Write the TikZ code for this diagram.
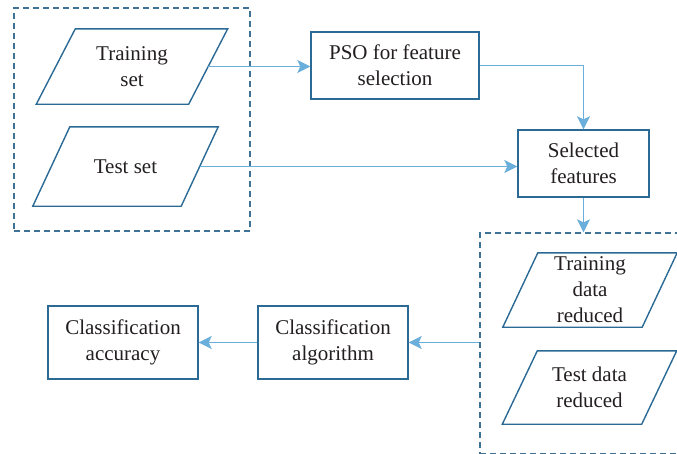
\documentclass[tikz,border=0pt]{standalone}
\usepackage{fontspec}
\setmainfont{Liberation Serif}
\usetikzlibrary{arrows.meta}
\definecolor{boxc}{HTML}{2A6A94}
\definecolor{dashc}{HTML}{3E7396}
\definecolor{arrc}{HTML}{6AAEDC}
\definecolor{txtc}{HTML}{231F20}
\newcommand\iodraw[2]{%
  \draw[ioline] ([xshift=-#2]#1.south west) -- ([xshift=-#2]#1.south east)
    -- ([xshift=#2]#1.north east) -- ([xshift=#2]#1.north west) -- cycle;}
\begin{document}
\begin{tikzpicture}[x=1pt,y=-1pt,
  txt/.style={text=txtc, align=center, inner sep=0pt, font=\fontsize{21}{26}\selectfont},
  procbox/.style={txt, draw=boxc, line width=1.4pt, fill=white, rectangle},
  iobox/.style={txt, rectangle},
  ioline/.style={draw=boxc, line width=1.4pt, line join=miter},
  flow/.style={draw=arrc, line width=1.4pt, -{Stealth[length=13pt,width=13pt,inset=3pt]}},
  grp/.style={draw=dashc, line width=1.3pt, dash pattern=on 6pt off 4pt, inner sep=0pt, rectangle}]
\useasboundingbox (0,0) rectangle (677,453);
\clip (0,0) rectangle (677,453);
% group boxes
\node (lbox) [grp, minimum width=236pt, minimum height=223pt] at (132,119.5) {};
\node (rbox) [grp, minimum width=240pt, minimum height=221pt] at (600,343.5) {};
% input/output nodes (parallelograms)
\node (train) [iobox, minimum width=152pt, minimum height=75pt] at (132,66.5) {Training\\set};
\iodraw{train}{19.5pt}
\node (test) [iobox, minimum width=148pt, minimum height=79pt] at (125.5,166.5) {Test set};
\iodraw{test}{18.5pt}
\node (trd) [iobox, minimum width=139pt, minimum height=74pt] at (590,290) {Training\\data\\reduced};
\iodraw{trd}{17.5pt}
\node (ted) [iobox, minimum width=139pt, minimum height=73pt] at (589.5,387.5) {Test data\\reduced};
\iodraw{ted}{17.5pt}
% process nodes
\node (pso) [procbox, minimum width=168pt, minimum height=67pt] at (395,65.5) {PSO for feature\\selection};
\node (sel) [procbox, minimum width=131pt, minimum height=67pt] at (583.5,163.5) {Selected\\features};
\node (calg) [procbox, minimum width=150pt, minimum height=73pt] at (333,342.5) {Classification\\algorithm};
\node (cacc) [procbox, minimum width=150pt, minimum height=73pt] at (123,342.5) {Classification\\accuracy};
% connectors
\draw[flow] (train.east) -- (train.east -| pso.west);
\draw[flow] (pso.east) -| (sel.north);
\draw[flow] (test.east) -- (test.east -| sel.west);
\draw[flow] (sel.south) -- (sel.south |- rbox.north);
\draw[flow] (rbox.west |- calg.east) -- (calg.east);
\draw[flow] (calg.west) -- (cacc.east);
\end{tikzpicture}
\end{document}
